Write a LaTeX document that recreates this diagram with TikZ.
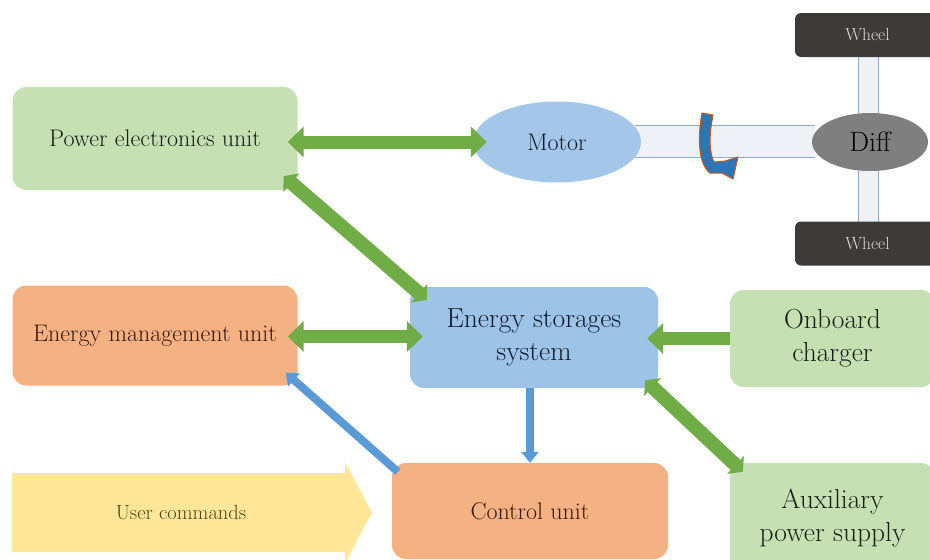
\documentclass[tikz,border=0pt]{standalone}
\usetikzlibrary{arrows.meta,shapes.geometric,calc}
\definecolor{boxgreen}{HTML}{C6E0B4}
\definecolor{boxorange}{HTML}{F4B183}
\definecolor{boxblue}{HTML}{9DC3E6}
\definecolor{motorblue}{HTML}{A4C6E8}
\definecolor{arrgreen}{HTML}{70AD47}
\definecolor{arrblue}{HTML}{5B9BD5}
\definecolor{cmdyellow}{HTML}{FFE699}
\definecolor{txtgreen}{HTML}{142212}
\definecolor{txtbrown}{HTML}{3A1A0A}
\definecolor{txtnavy}{HTML}{111C30}
\definecolor{txtolive}{HTML}{514412}
\definecolor{wheeldark}{HTML}{3D3A3A}
\definecolor{shaftfill}{HTML}{EEF2F7}
\definecolor{shaftline}{HTML}{8EA9C1}
\definecolor{diffgray}{HTML}{7F7F7F}
\definecolor{rotblue}{HTML}{2E75B6}
\definecolor{rotorange}{HTML}{C55A11}
\begin{document}
\begin{tikzpicture}[x=1pt,y=-1pt,
  box/.style={rounded corners=14pt, inner sep=0pt, align=center},
  gbox/.style={box, fill=boxgreen, text=txtgreen},
  obox/.style={box, fill=boxorange, text=txtbrown},
  bbox/.style={box, fill=boxblue, text=txtnavy},
  midfont/.style={font=\fontsize{24}{28}\selectfont},
  bigfont/.style={font=\fontsize{27.5}{33}\selectfont},
  wheelbox/.style={rounded corners=6pt, fill=wheeldark, text=white!85!black,
    font=\fontsize{17.5}{20}\selectfont, inner sep=0pt},
  garrow/.style={draw=arrgreen, line width=13pt,
    {Triangle[width=30pt,length=16pt]}-{Triangle[width=30pt,length=16pt]}},
  garrowone/.style={draw=arrgreen, line width=13pt,
    -{Triangle[width=30pt,length=16pt]}},
  darrow/.style={draw=arrgreen, line width=14pt,
    {Triangle[width=24pt,length=10pt]}-{Triangle[width=24pt,length=10pt]}},
  barrow/.style={draw=arrblue, line width=8pt,
    -{Triangle[width=17pt,length=11pt]}},
]
\useasboundingbox (0,0) rectangle (930,560);
\clip (0,0) rectangle (930,560);
\fill[white] (0,0) rectangle (930,560);

% drive train
\fill[shaftfill] (635,125) rectangle (815,157);
\draw[shaftline, line width=1pt] (635,125) -- (815,125) (635,157) -- (815,157);
\fill[shaftfill] (858,50) rectangle (878,230);
\draw[shaftline, line width=1pt] (858,50) -- (858,230) (878,50) -- (878,230);

\node[wheelbox, minimum width=145pt, minimum height=44pt] (wheelT) at (867.5,35) {Wheel};
\node[wheelbox, minimum width=145pt, minimum height=44pt] (wheelB) at (867.5,243.5) {Wheel};

\node[ellipse, fill=motorblue, minimum width=168pt, minimum height=81pt, inner sep=0pt,
  text=txtnavy, midfont] (motor) at (557,142) {Motor};
\node[ellipse, fill=diffgray, minimum width=116pt, minimum height=58pt, inner sep=0pt,
  text=black, font=\fontsize{28}{30}\selectfont] (diff) at (870,142) {Diff};

% rotation symbol
\filldraw[fill=rotblue, draw=rotorange, line width=1pt, line join=round]
  (702,113) -- (713,115) .. controls (709,135) and (709,152) .. (714,162)
  -- (725,161) -- (738,157) -- (733,179) -- (722,173) -- (710,173)
  .. controls (699,165) and (697,140) .. (702,113) -- cycle;

% boxes
\node[gbox, midfont, minimum width=285pt, minimum height=103pt] (peu) at (155,138.5) {Power electronics unit};
\node[obox, midfont, minimum width=285pt, minimum height=100pt] (emu) at (155,335.5) {Energy management unit};
\node[bbox, bigfont, minimum width=248pt, minimum height=101pt] (ess) at (534,337.5) {Energy storages\\system};
\node[gbox, bigfont, minimum width=205pt, minimum height=97pt] (obc) at (832.5,338.5) {Onboard\\charger};
\node[gbox, bigfont, minimum width=205pt, minimum height=110pt] (aux) at (832.5,518) {Auxiliary\\power supply};
\node[obox, midfont, minimum width=276pt, minimum height=96pt] (cu) at (530,511) {Control unit};

% user commands arrow
\fill[cmdyellow] (12,473) -- (345,473) -- (345,462) -- (372,512.5) -- (345,563)
  -- (345,552) -- (12,552) -- cycle;
\node[text=txtolive, font=\fontsize{20.5}{24}\selectfont] (cmd) at (181,513) {User commands};

% connectors
\draw[garrow] ([shift={(-10,3.5)}]peu.east) -- ([shift={(14,0)}]motor.west);
\draw[darrow] ([shift={(-14,-14)}]peu.south east) -- ([shift={(17,13)}]ess.north west);
\draw[garrow] ([shift={(-10,1)}]emu.east) -- ([shift={(13,-1)}]ess.west);
\draw[garrowone] (obc.west) -- ([shift={(-11,0)}]ess.east |- obc.west);
\draw[darrow] ([shift={(-13,-8)}]ess.south east) -- ([shift={(13,9)}]aux.north west);
\draw[barrow] (cu.north |- ess.south) -- (cu.north);
\draw[barrow] ([shift={(6,9)}]cu.north west) -- ([shift={(-12,-13)}]emu.south east);
\end{tikzpicture}
\end{document}
